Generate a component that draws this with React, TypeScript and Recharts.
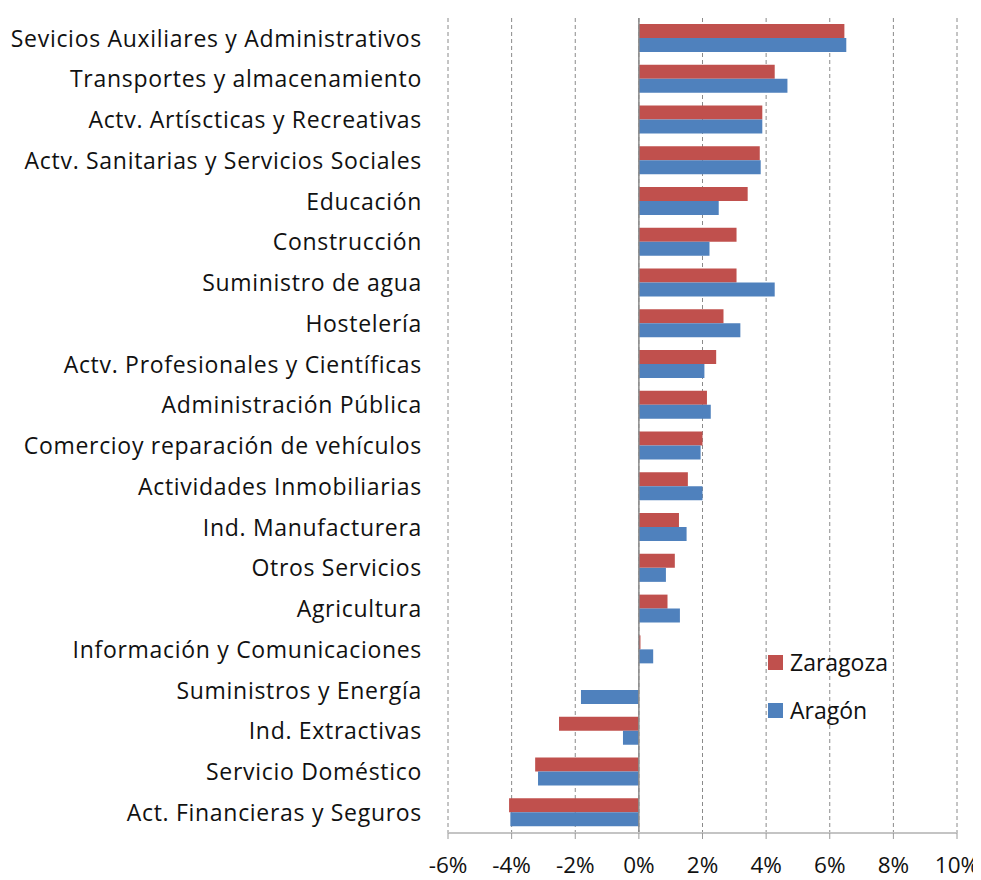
import React from "react";
import {
  BarChart,
  Bar,
  XAxis,
  YAxis,
  CartesianGrid,
  Legend,
  ReferenceLine,
} from "recharts";

const SECTORS = [
  "Sevicios Auxiliares y Administrativos",
  "Transportes y almacenamiento",
  "Actv. Artíscticas y Recreativas",
  "Actv. Sanitarias y Servicios Sociales",
  "Educación",
  "Construcción",
  "Suministro de agua",
  "Hostelería",
  "Actv. Profesionales y Científicas",
  "Administración Pública",
  "Comercioy reparación de vehículos",
  "Actividades Inmobiliarias",
  "Ind. Manufacturera",
  "Otros Servicios",
  "Agricultura",
  "Información y Comunicaciones",
  "Suministros y  Energía",
  "Ind. Extractivas",
  "Servicio Doméstico",
  "Act. Financieras y Seguros",
];

// variación en %
const ZARAGOZA = [
  6.46, 4.27, 3.88, 3.8, 3.42, 3.07, 3.07, 2.66, 2.43, 2.14,
  2.0, 1.54, 1.26, 1.13, 0.9, 0.05, 0.0, -2.51, -3.26, -4.08,
];
const ARAGON = [
  6.52, 4.67, 3.88, 3.83, 2.51, 2.22, 4.27, 3.19, 2.06, 2.26,
  1.94, 2.0, 1.5, 0.85, 1.29, 0.45, -1.82, -0.5, -3.17, -4.04,
];

const X_TICKS = [-6, -4, -2, 0, 2, 4, 6, 8, 10];
const LEGEND_ORDER = ["Zaragoza", "Aragón"];

const RED = "#C0504D";
const BLUE = "#4F81BD";
const FONT = "'Open Sans', sans-serif";

const data = SECTORS.map((name, i) => ({
  name,
  zaragoza: ZARAGOZA[i],
  aragon: ARAGON[i],
}));

const renderLegend = (props: any) => {
  const items = [...(props.payload || [])].sort(
    (a: any, b: any) => LEGEND_ORDER.indexOf(a.value) - LEGEND_ORDER.indexOf(b.value),
  );
  return (
    <div style={{ fontFamily: FONT, fontSize: 23, color: "#111" }}>
      {items.map((entry: any) => (
        <div
          key={entry.value}
          style={{ display: "flex", alignItems: "center", height: 48 }}
        >
          <span
            style={{
              width: 15,
              height: 15,
              background: entry.color,
              marginRight: 7,
              display: "inline-block",
            }}
          />
          <span>{entry.value}</span>
        </div>
      ))}
    </div>
  );
};

export default function App() {
  return (
    <div style={{ width: 973, height: 872, background: "#fff" }}>
      <BarChart
        width={973}
        height={872}
        data={data}
        layout="vertical"
        margin={{ top: 10, right: 24, bottom: 0, left: 0 }}
        barCategoryGap="15%"
        barGap={0}
        style={{ overflow: "visible" }}
      >
        <CartesianGrid
          horizontal={false}
          vertical={true}
          stroke="#8a8a8a"
          strokeDasharray="4 3"
        />
        <XAxis
          type="number"
          domain={[-6, 10]}
          ticks={X_TICKS}
          tickFormatter={(v) => `${v}%`}
          axisLine={{ stroke: "#c4c4c4", strokeWidth: 2 }}
          tickLine={{ stroke: "#9a9a9a" }}
          tickSize={6}
          tickMargin={18}
          height={47}
          tick={{ fontFamily: FONT, fontSize: 22.5, fill: "#111" }}
        />
        <YAxis
          type="category"
          dataKey="name"
          width={440}
          axisLine={false}
          tickLine={false}
          tickMargin={20}
          interval={0}
          tick={{
            fontFamily: FONT,
            fontSize: 23,
            fill: "#111",
            letterSpacing: 0.7,
            style: { whiteSpace: "pre" },
          }}
        />
        <ReferenceLine x={0} stroke="#8a8a8a" strokeWidth={1.5} />
        <Bar
          dataKey="zaragoza"
          name="Zaragoza"
          fill={RED}
          isAnimationActive={false}
        />
        <Bar
          dataKey="aragon"
          name="Aragón"
          fill={BLUE}
          isAnimationActive={false}
        />
        <Legend
          layout="vertical"
          align="center"
          verticalAlign="middle"
          content={renderLegend}
          wrapperStyle={{ left: 760, top: 630, width: 150 }}
        />
      </BarChart>
    </div>
  );
}
